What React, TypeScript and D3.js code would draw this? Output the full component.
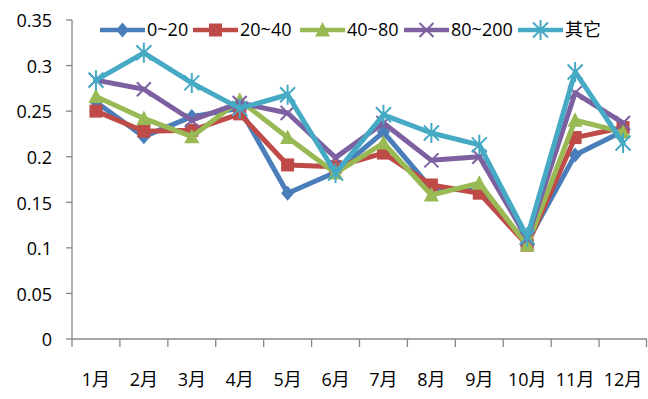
import * as d3 from 'd3';
import { useEffect, useRef } from 'react';

const months = ['1月', '2月', '3月', '4月', '5月', '6月', '7月', '8月', '9月', '10月', '11月', '12月'];
const seriesNames = ['0~20', '20~40', '40~80', '80~200', '其它'];
const v0to20 = [0.26, 0.222, 0.244, 0.253, 0.16, 0.183, 0.227, 0.165, 0.163, 0.106, 0.202, 0.228];
const v20to40 = [0.25, 0.228, 0.229, 0.247, 0.191, 0.189, 0.204, 0.169, 0.16, 0.103, 0.221, 0.232];
const v40to80 = [0.266, 0.242, 0.222, 0.262, 0.221, 0.182, 0.215, 0.158, 0.171, 0.103, 0.24, 0.227];
const v80to200 = [0.284, 0.274, 0.24, 0.259, 0.248, 0.199, 0.237, 0.196, 0.2, 0.11, 0.27, 0.237];
const vOther = [0.284, 0.314, 0.281, 0.253, 0.268, 0.182, 0.246, 0.226, 0.213, 0.112, 0.293, 0.215];
const yTicks = [0, 0.05, 0.1, 0.15, 0.2, 0.25, 0.3, 0.35];

const colors = ['#4a7ebb', '#be4b48', '#98b954', '#7d60a0', '#46aac5'];
const markers = ['diamond', 'square', 'triangle', 'cross', 'asterisk'];

const W = 648;
const H = 399;
const margin = { top: 20, bottom: 60, left: 72, right: 1 };
const font = '"Open Sans", "Noto Sans CJK SC", sans-serif';

// draws one marker centred at (x, y)
const drawMarker = (g: any, kind: string, x: number, y: number, color: string) => {
  if (kind === 'diamond') {
    g.append('path')
      .attr('d', `M${x},${y - 7.5}L${x + 6.5},${y}L${x},${y + 7.5}L${x - 6.5},${y}Z`)
      .style('fill', color);
  } else if (kind === 'square') {
    g.append('rect')
      .attr('x', x - 6.5)
      .attr('y', y - 6.5)
      .attr('width', 13)
      .attr('height', 13)
      .style('fill', color);
  } else if (kind === 'triangle') {
    g.append('path')
      .attr('d', `M${x},${y - 8}L${x + 7.5},${y + 6.5}L${x - 7.5},${y + 6.5}Z`)
      .style('fill', color);
  } else if (kind === 'cross') {
    g.append('path')
      .attr('d', `M${x - 7},${y - 7}L${x + 7},${y + 7}M${x - 7},${y + 7}L${x + 7},${y - 7}`)
      .style('stroke', color)
      .style('stroke-width', 2);
  } else {
    g.append('path')
      .attr(
        'd',
        `M${x - 7.5},${y - 7.5}L${x + 7.5},${y + 7.5}M${x - 7.5},${y + 7.5}L${x + 7.5},${y - 7.5}M${x},${y - 10}L${x},${y + 10}`
      )
      .style('stroke', color)
      .style('stroke-width', 2);
  }
};

const App = () => {
  const chartRef = useRef<SVGSVGElement>(null);

  useEffect(() => {
    const svg = d3.select(chartRef.current);
    svg.selectAll('*').remove();

    const allSeries = [v0to20, v20to40, v40to80, v80to200, vOther];

    const scaleX = d3
      .scaleBand()
      .domain(months)
      .range([margin.left, W - margin.right]);
    const scaleY = d3
      .scaleLinear()
      .domain([0, 0.35])
      .range([H - margin.bottom, margin.top]);

    const axisColor = '#878787';
    const y0 = scaleY(0);

    // y axis
    svg
      .append('line')
      .attr('x1', margin.left)
      .attr('x2', margin.left)
      .attr('y1', scaleY(0.35))
      .attr('y2', y0)
      .style('stroke', axisColor)
      .style('stroke-width', 1.3);
    yTicks.forEach((t) => {
      svg
        .append('line')
        .attr('x1', margin.left - 6)
        .attr('x2', margin.left)
        .attr('y1', scaleY(t))
        .attr('y2', scaleY(t))
        .style('stroke', axisColor)
        .style('stroke-width', 1.3);
      svg
        .append('text')
        .attr('x', 52)
        .attr('y', scaleY(t) + 1)
        .attr('dy', '0.35em')
        .attr('text-anchor', 'end')
        .style('font-family', font)
        .style('font-size', '18px')
        .style('fill', '#000')
        .text(String(+t.toFixed(2)));
    });

    // x axis
    svg
      .append('line')
      .attr('x1', margin.left)
      .attr('x2', W - margin.right)
      .attr('y1', y0)
      .attr('y2', y0)
      .style('stroke', axisColor)
      .style('stroke-width', 1.3);
    const edges = months.map((m) => scaleX(m) as number).concat([W - margin.right - 0.5]);
    edges.forEach((ex) => {
      svg
        .append('line')
        .attr('x1', ex)
        .attr('x2', ex)
        .attr('y1', y0)
        .attr('y2', y0 + 8)
        .style('stroke', axisColor)
        .style('stroke-width', 1.3);
    });
    months.forEach((m) => {
      svg
        .append('text')
        .attr('x', (scaleX(m) as number) + scaleX.bandwidth() / 2)
        .attr('y', 386)
        .attr('text-anchor', 'middle')
        .style('font-family', font)
        .style('font-size', '18px')
        .style('fill', '#000')
        .text(m);
    });

    // series
    const line = d3
      .line<number>()
      .x((d, i) => (scaleX(months[i]) as number) + scaleX.bandwidth() / 2)
      .y((d) => scaleY(d));

    allSeries.forEach((vals, si) => {
      const g = svg.append('g');
      g.append('path')
        .datum(vals)
        .attr('d', line)
        .style('fill', 'none')
        .style('stroke', colors[si])
        .style('stroke-width', 5)
        .style('stroke-linejoin', 'round')
        .style('stroke-linecap', 'round');
      vals.forEach((v, i) => {
        drawMarker(g, markers[si], (scaleX(months[i]) as number) + scaleX.bandwidth() / 2, scaleY(v), colors[si]);
      });
    });

    // legend
    const legendX = [100, 193, 300, 404, 518];
    const legendY = 30;
    seriesNames.forEach((name, si) => {
      const g = svg.append('g');
      const lx = legendX[si];
      g.append('line')
        .attr('x1', lx)
        .attr('x2', lx + 45)
        .attr('y1', legendY)
        .attr('y2', legendY)
        .style('stroke', colors[si])
        .style('stroke-width', 4.5);
      drawMarker(g, markers[si], lx + 22.5, legendY, colors[si]);
      g.append('text')
        .attr('x', lx + 47)
        .attr('y', legendY)
        .attr('dy', '0.35em')
        .style('font-family', si === 4 ? '"Noto Sans CJK SC", sans-serif' : font)
        .style('font-size', '18px')
        .style('fill', '#000')
        .text(name);
    });
  }, []);

  return (
    <svg
      ref={chartRef}
      width={W}
      height={H}
      style={{ position: 'absolute', left: 0, top: 0, background: '#fff' }}
    />
  );
};

export default App;
